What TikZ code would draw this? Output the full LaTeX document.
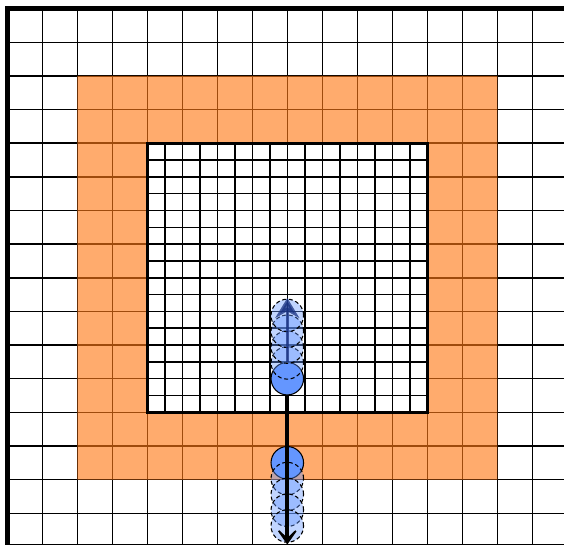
\documentclass[tikz,border=0pt]{standalone}
\usetikzlibrary{arrows.meta}

\definecolor{ringorange}{RGB}{255,120,20}
\definecolor{partblue}{RGB}{100,150,255}
\definecolor{velblue}{RGB}{25,50,130}

\tikzset{every picture/.style={line width=0.75pt}}
\tikzset{
  gridline/.style={line width=1.1pt, draw=black},
  borderline/.style={line width=3.8pt, draw=black},
  boxline/.style={line width=2.5pt, draw=black},
  ring/.style={fill=ringorange, fill opacity=0.62, even odd rule},
  particle/.style={circle, draw=black, line width=0.8pt, fill=partblue, minimum size=24.4pt, inner sep=0pt},
  ghost/.style={particle, fill opacity=0.4, dash pattern={on 3pt off 2pt}},
  velarrow/.style={line width=2.6pt, draw=velblue, opacity=0.75, -{Stealth[length=15pt,width=18pt,inset=5pt]}},
  pusharrow/.style={line width=3pt, draw=black, -{Stealth[length=15pt,width=21pt,inset=10pt]}}
}

\begin{document}
\begin{tikzpicture}[x=26.25pt,y=25.23pt,yscale=-1]
\useasboundingbox (-0.2086,-0.2574) rectangle (15.906,15.944);
\clip (-0.2086,-0.2574) rectangle (15.906,15.944);

%Coarse grid
\foreach \i in {0,...,16} {
  \draw [gridline] (\i,0) -- (\i,16);
  \draw [gridline] (0,\i) -- (16,\i);
}
%Outer border
\draw [borderline] (0,0) rectangle (16,16);

%Shape: orange ring
\fill [ring] (2,2) rectangle (14,14) (4,4) rectangle (12,12);

%Fine grid in the inner box
\foreach \i in {4,4.5,...,12} {
  \draw [gridline] (\i,4) -- (\i,12);
  \draw [gridline] (4,\i) -- (12,\i);
}
%Inner box
\draw [boxline] (4,4) rectangle (12,12);

%Lower particle and its trail
\node [particle] (lowp) at (8,13.5) {};
\foreach \k in {1,...,4}
  \node [ghost] (lowg\k) at (8,13.5+0.47*\k) {};

%Upper particle and its trail
\node [particle] (upp) at (8,11) {};
\foreach \k in {1,...,4}
  \node [ghost] (upg\k) at (8,11-0.47*\k) {};

\coordinate (uptip) at (8,8.6);
\coordinate (lowtip) at (8,15.93);

%Arrows
\draw [velarrow] (upp) -- (uptip);
\draw [pusharrow] (upp) -- (lowtip);

\end{tikzpicture}
\end{document}
